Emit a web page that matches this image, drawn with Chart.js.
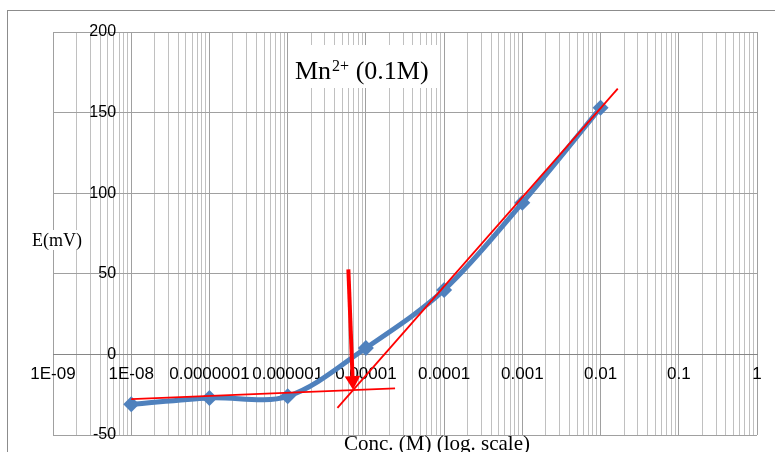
<!DOCTYPE html>
<html>
<head>
<meta charset="utf-8">
<script src="https://cdn.jsdelivr.net/npm/chart.js@4/dist/chart.umd.min.js"></script>
<style>
  html, body { margin: 0; padding: 0; background: #ffffff; }
  #wrap { position: relative; width: 775px; height: 452px; }
  canvas { display: block; }
</style>
</head>
<body>
<div id="wrap"><canvas id="chart" width="775" height="452"></canvas></div>
<script>
// Electrode response for Mn2+ (0.1 M): potential vs. concentration
const concentrations = [1e-8, 1e-7, 1e-6, 1e-5, 1e-4, 1e-3, 1e-2];
const potentials     = [-31, -27, -26, 4, 40, 94, 153];

// Hand-drawn fit lines used to locate the detection limit
const baselineFitX = [1e-8, 2.36e-5];
const baselineFitY = [-27.7, -21.1];
const slopeFitX    = [4.33e-6, 0.0166];
const slopeFitY    = [-33.2, 164.9];

// Arrow marking the intersection (shaft top, arrow-head centre)
const arrowX = [5.97e-6, 6.78e-6];
const arrowY = [52.7, -16.3];

// Axis labels
const decadeLabels = ['1E-09', '1E-08', '0.0000001', '0.000001', '0.00001',
                      '0.0001', '0.001', '0.01', '0.1', '1'];
const yTickValues  = [-50, 0, 50, 100, 150, 200];

const xMin = 1e-9, xMax = 1, yMin = -50, yMax = 200;
// the vertical axis crosses at 1E-08; its labels sit a little to the left of it
const yLabelAnchor = 6.4e-9;

// Log grid: 1..9 x 10^n for every decade
const xGridValues = [];
for (let e = -9; e < 0; e++) {
  for (let m = 1; m <= 9; m++) xGridValues.push(Number((m + 'e' + e)));
}
xGridValues.push(1);

function isDecade(v) {
  const l = Math.log10(v);
  return Math.abs(l - Math.round(l)) < 1e-9;
}

const toXY = (xs, ys) => xs.map((x, i) => ({ x: x, y: ys[i] }));

// Background frame and text annotations
const decorations = {
  id: 'decorations',
  beforeDraw(chart) {
    const ctx = chart.ctx;
    ctx.save();
    ctx.strokeStyle = '#8c8c8c';
    ctx.lineWidth = 1;
    ctx.strokeRect(7.5, 10.5, 800, 500);
    ctx.restore();
  },
  beforeDatasetsDraw(chart) {
    const ctx = chart.ctx;
    ctx.save();
    // series title inside the plot
    ctx.fillStyle = '#ffffff';
    ctx.fillRect(290, 45, 147, 43);
    ctx.fillStyle = '#000000';
    ctx.textBaseline = 'alphabetic';
    ctx.textAlign = 'left';
    ctx.font = '26px "Liberation Serif", "Times New Roman", serif';
    ctx.fillText('Mn', 295, 79);
    let x = 295 + ctx.measureText('Mn').width;
    ctx.font = '16px "Liberation Serif", "Times New Roman", serif';
    ctx.fillText('2+', x + 1, 71);
    x += 1 + ctx.measureText('2+').width;
    ctx.font = '26px "Liberation Serif", "Times New Roman", serif';
    ctx.fillText(' (0.1M)', x, 79);

    // y axis title
    ctx.font = '18px "Liberation Serif", "Times New Roman", serif';
    const yt = 'E(mV)';
    const yw = ctx.measureText(yt).width;
    ctx.fillStyle = '#ffffff';
    ctx.fillRect(31, 230, yw + 2, 20);
    ctx.fillStyle = '#000000';
    ctx.fillText(yt, 32, 246);

    // x axis title
    ctx.font = '21px "Liberation Serif", "Times New Roman", serif';
    ctx.textAlign = 'center';
    ctx.fillText('Conc. (M) (log. scale)', 437, 450);
    ctx.restore();
  }
};

new Chart(document.getElementById('chart'), {
  type: 'line',
  data: {
    datasets: [
      {
        label: 'arrow',
        data: toXY(arrowX, arrowY),
        borderColor: '#ff0000',
        backgroundColor: '#ff0000',
        borderWidth: 4,
        pointStyle: 'triangle',
        pointRadius: [0, 9],
        pointRotation: 177.6,
        pointBorderWidth: 0,
        tension: 0,
        order: 0
      },
      {
        label: 'baseline fit',
        data: toXY(baselineFitX, baselineFitY),
        borderColor: '#ff0000',
        borderWidth: 1.8,
        pointRadius: 0,
        tension: 0,
        order: 1
      },
      {
        label: 'linear fit',
        data: toXY(slopeFitX, slopeFitY),
        borderColor: '#ff0000',
        borderWidth: 1.8,
        pointRadius: 0,
        tension: 0,
        order: 1
      },
      {
        label: 'E(mV)',
        data: toXY(concentrations, potentials),
        borderColor: '#4f81bd',
        backgroundColor: '#4f81bd',
        borderWidth: 5,
        pointStyle: 'rectRot',
        pointRadius: 8,
        pointBorderWidth: 0,
        tension: 0.33,
        order: 3
      }
    ]
  },
  options: {
    responsive: false,
    animation: false,
    events: [],
    layout: { padding: { left: 53, top: 32, right: 18, bottom: 17 } },
    plugins: {
      legend: { display: false },
      tooltip: { enabled: false },
      title: { display: false }
    },
    scales: {
      x: {
        type: 'logarithmic',
        axis: 'x',
        position: { y: 0 },
        min: xMin,
        max: xMax,
        afterBuildTicks: (scale) => {
          scale.ticks = xGridValues.map(v => ({ value: v }));
        },
        ticks: {
          autoSkip: false,
          maxRotation: 0,
          minRotation: 0,
          padding: 10,
          color: '#000000',
          font: { family: '"Liberation Sans", Arial, sans-serif', size: 17 },
          callback: (value) => {
            if (!isDecade(value)) return '';
            return decadeLabels[Math.round(Math.log10(value)) + 9];
          }
        },
        grid: {
          drawTicks: false,
          color: (ctx) => (ctx.tick && isDecade(ctx.tick.value)) ? '#a0a0a0' : '#c0c0c0',
          lineWidth: 1
        },
        border: { display: true, color: '#868686', width: 1 }
      },
      y: {
        type: 'linear',
        axis: 'y',
        position: { x: yLabelAnchor },
        min: yMin,
        max: yMax,
        afterBuildTicks: (scale) => {
          scale.ticks = yTickValues.map(v => ({ value: v }));
        },
        ticks: {
          color: '#000000',
          font: { family: '"Liberation Sans", Arial, sans-serif', size: 16 }
        },
        grid: {
          drawTicks: false,
          color: '#a0a0a0',
          lineWidth: 1
        },
        border: { display: false }
      }
    }
  },
  plugins: [decorations]
});
</script>
</body>
</html>
